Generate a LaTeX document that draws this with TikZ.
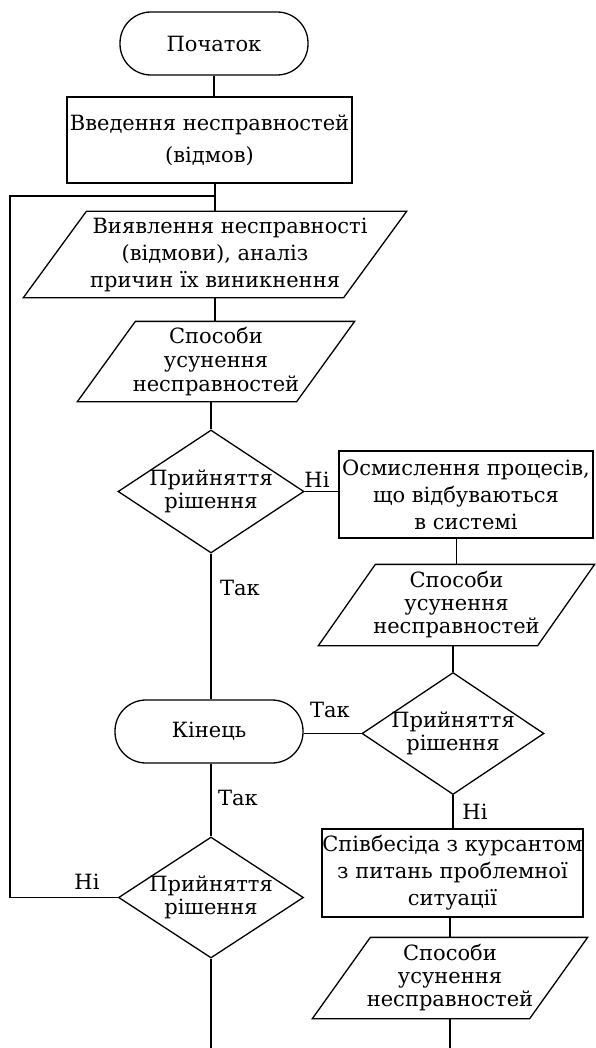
\documentclass[tikz,border=0pt]{standalone}
\usepackage{fontspec}
\setmainfont{DejaVu Serif}
\usetikzlibrary{shapes.geometric}
\newcommand\paral[2]{\draw ([xshift=#2]#1.north west) -- (#1.north east) -- ([xshift=-#2]#1.south east) -- (#1.south west) -- cycle;}
\begin{document}
\begin{tikzpicture}[x=1pt,y=-1pt,
  line width=1.3pt,
  every node/.style={font=\fontsize{21}{27}\selectfont, inner sep=0pt},
  term/.style={draw, rectangle, rounded corners=31pt, minimum width=188pt, minimum height=63pt},
  proc/.style={draw, rectangle, align=center},
  io/.style={rectangle, align=center},
  dec/.style={draw, diamond, minimum width=186pt, minimum height=123pt,
    label={[align=center, font=\fontsize{21}{23}\selectfont]center:{Прийняття\\рішення}}},
  lbl/.style={font=\fontsize{21}{26}\selectfont}
]
\useasboundingbox (0,0) rectangle (595,1048);

% left column
\node[term] (start) at (214,43.5) {Початок};
\node[proc, minimum width=285pt, minimum height=86pt, font=\fontsize{21}{32}\selectfont] (intro) at (209.5,140) {Введення несправностей\\(відмов)};
\node[io, minimum width=382pt, minimum height=85pt] (p1) at (215,254.5) {\hspace*{30pt}Виявлення несправності\\(відмови), аналіз\\причин їх виникнення};
\node[io, minimum width=276pt, minimum height=79pt, font=\fontsize{21}{24}\selectfont] (p2) at (216,361.5) {Способи\\усунення\\несправностей};
\node[dec] (d1) at (211,491.5) {};
\node[term] (end) at (209,731.5) {Кінець};
\node[dec, minimum width=185pt, minimum height=121pt] (d3) at (211,897.5) {};

% right column
\node[proc, minimum width=254pt, minimum height=87pt] (r2) at (466,494.5) {Осмислення процесів,\\що відбуваються\\в системі};
\node[io, minimum width=275pt, minimum height=80pt, font=\fontsize{21}{23}\selectfont] (p3) at (456.5,605) {Способи\\усунення\\несправностей};
\node[dec, minimum width=182pt, minimum height=122pt] (d2) at (453,733.5) {};
\node[proc, minimum width=261pt, minimum height=88pt] (r3) at (452.5,873) {Співбесіда з курсантом\\з питань проблемної\\ситуації};
\node[io, minimum width=274pt, minimum height=80pt, font=\fontsize{21}{23}\selectfont] (p4) at (450,978) {Способи\\усунення\\несправностей};

% parallelograms
\paral{p1}{63pt}
\paral{p2}{58pt}
\paral{p3}{57pt}
\paral{p4}{58pt}

% free ends
\coordinate (lx) at (10,196);
\coordinate (jn) at (215,196);
\coordinate (bot1) at (211,1048);
\coordinate (bot2) at (450,1048);

% connectors, left column
\draw (start.south) -- (start.south |- intro.north);
\draw (intro.south -| p1.north) -- (p1.north);
\draw (p1.south) -- (p1.south |- p2.north);
\draw (p2.south -| d1.north) -- (d1.north);
\draw (d1.south) -- (d1.south |- end.north);
\draw (end.south -| d3.north) -- (d3.north);
\draw (d3.south) -- (bot1);
\draw (d3.west) -| (lx) -- (jn);

% connectors, right column
\draw (d1.east) -- (d1.east -| r2.west);
\draw (r2.south -| p3.north) -- (p3.north);
\draw (p3.south -| d2.north) -- (d2.north);
\draw (d2.west) -- (d2.west -| end.east);
\draw (d2.south) -- (d2.south |- r3.north);
\draw (r3.south -| p4.north) -- (p4.north);
\draw (p4.south) -- (bot2);

% labels
\node[lbl] (n1) at (317,480) {Ні};
\node[lbl] (t1) at (240,588) {Так};
\node[lbl] (t2) at (330,710) {Так};
\node[lbl] (t3) at (238,798) {Так};
\node[lbl] (n2) at (475,812) {Ні};
\node[lbl] (n3) at (87,882) {Ні};
\end{tikzpicture}
\end{document}
